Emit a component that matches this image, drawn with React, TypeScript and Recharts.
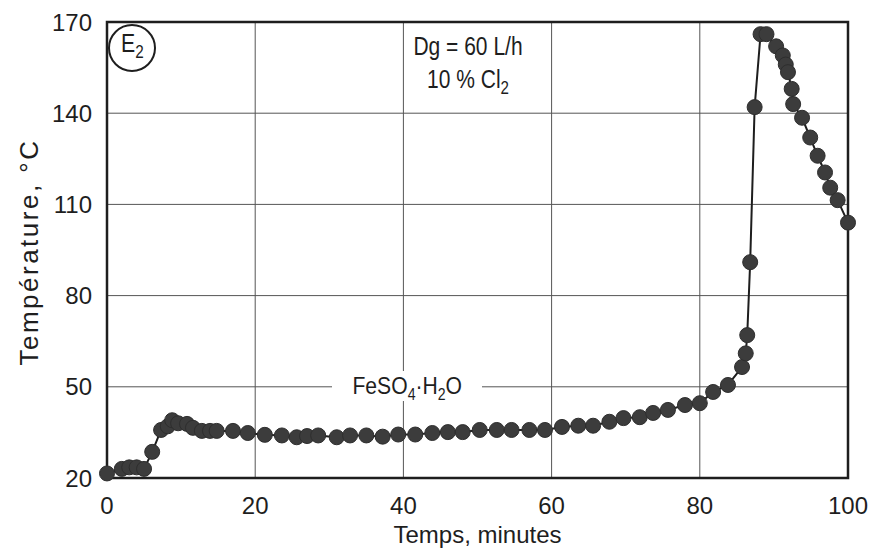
import React from "react";
import {
  LineChart,
  Line,
  CartesianGrid,
  XAxis,
  YAxis,
  ReferenceArea,
  Label,
} from "recharts";

// temps (min) and température (°C)
const times = [
  0, 2, 3, 4, 5, 6.1, 7.3, 8.2, 8.8, 9.6, 10.8, 11.6, 12.8, 13.9, 14.8, 17, 19,
  21.3, 23.6, 25.6, 27, 28.5, 31, 32.8, 35, 37.2, 39.3, 41.6, 43.9, 46, 48,
  50.3, 52.6, 54.6, 57, 59.1, 61.4, 63.6, 65.6, 67.8, 69.7, 71.9, 73.7, 75.7,
  78, 80, 81.8, 83.8, 85.7, 86.2, 86.4, 86.8, 87.4, 88.2, 89, 90.3, 91.2, 91.6,
  91.9, 92.4, 92.6, 93.8, 94.9, 95.9, 96.9, 97.6, 98.6, 100,
];
const temps = [
  21.5, 23, 23.5, 23.5, 23, 28.6, 35.8, 37, 39, 38, 37.8, 36.5, 35.5, 35.5,
  35.5, 35.5, 34.8, 34.2, 34, 33.4, 33.8, 34, 33.4, 34, 34, 33.6, 34.3, 34.3,
  34.8, 35.1, 35.1, 35.8, 35.8, 35.8, 35.8, 35.8, 36.8, 37.2, 37.2, 38.5, 39.7,
  40, 41.4, 42.4, 44, 44.6, 48.3, 50.6, 56.5, 61, 67, 91, 142, 166, 166, 162,
  159, 156, 153.5, 148, 143, 138.5, 132, 126, 120.5, 115.5, 111.4, 104,
];
const xTicks = [0, 20, 40, 60, 80, 100];
const yTicks = [20, 50, 80, 110, 140, 170];

const data = times.map((t, i) => ({ t, temp: temps[i] }));

const font = "'Liberation Sans', Arial, sans-serif";
const ink = "#1e1e1e";

const YTitle = (props: any) => {
  const vb = props.viewBox;
  const cx = 29;
  const cy = vb.y + vb.height / 2 + 2;
  return (
    <text
      x={cx}
      y={cy}
      transform={`rotate(-90, ${cx}, ${cy})`}
      textAnchor="middle"
      dominantBaseline="central"
      fontFamily={font}
      fontSize={26}
      letterSpacing={2.5}
      fill={ink}
    >
      Température, °C
    </text>
  );
};

const note: React.CSSProperties = {
  position: "absolute",
  textAlign: "center",
  fontFamily: font,
  color: ink,
  transformOrigin: "center",
};

export default function App() {
  return (
    <div
      style={{
        position: "absolute",
        left: 0,
        top: 0,
        width: 870,
        height: 552,
        background: "#fff",
      }}
    >
      <LineChart
        width={870}
        height={552}
        data={data}
        margin={{ top: 22, right: 22, left: 47, bottom: 34 }}
      >
        <CartesianGrid stroke="#555" strokeWidth={1} />
        <XAxis
          dataKey="t"
          type="number"
          domain={[0, 100]}
          ticks={xTicks}
          height={40}
          tickLine={false}
          axisLine={false}
          tickSize={0}
          tickMargin={19}
          tick={{ fill: ink, fontSize: 24, fontFamily: font }}
        >
          <Label
            value="Temps, minutes"
            position="bottom"
            offset={8}
            style={{ fill: ink, fontSize: 24, fontFamily: font }}
          />
        </XAxis>
        <YAxis
          type="number"
          domain={[20, 170]}
          ticks={yTicks}
          width={60}
          tickLine={false}
          axisLine={false}
          tickSize={0}
          tickMargin={15}
          tick={{ fill: ink, fontSize: 24, fontFamily: font }}
          label={<YTitle />}
        />
        <ReferenceArea
          x1={0}
          x2={100}
          y1={20}
          y2={170}
          fill="none"
          stroke={ink}
          strokeWidth={2.5}
          fillOpacity={0}
        />
        <Line
          type="linear"
          dataKey="temp"
          stroke={ink}
          strokeWidth={2}
          isAnimationActive={false}
          dot={{ r: 7.5, fill: "#3c3c3c", stroke: "#2e2e2e", strokeWidth: 1 }}
          activeDot={false}
        />
      </LineChart>

      {/* E2 badge */}
      <div
        style={{
          position: "absolute",
          left: 108,
          top: 24,
          width: 44,
          height: 44,
          border: `2px solid ${ink}`,
          borderRadius: "50%",
          display: "flex",
          alignItems: "center",
          justifyContent: "center",
          fontFamily: font,
          fontSize: 25,
          color: ink,
          background: "#fff",
        }}
      >
        <span style={{ transform: "scaleX(0.85)", marginTop: -4 }}>
          E<sub style={{ fontSize: 18 }}>2</sub>
        </span>
      </div>

      {/* conditions */}
      <div
        style={{
          ...note,
          left: 368,
          top: 30,
          width: 200,
          fontSize: 25,
          lineHeight: "33px",
          transform: "scaleX(0.84)",
        }}
      >
        <div>Dg = 60 L/h</div>
        <div>
          10 % Cl<sub style={{ fontSize: 18, lineHeight: 0 }}>2</sub>
        </div>
      </div>

      {/* phase label on the 50 °C gridline */}
      <div
        style={{
          ...note,
          left: 332,
          top: 371,
          width: 150,
          fontSize: 24,
          lineHeight: "30px",
          background: "#fff",
        }}
      >
        <span style={{ display: "inline-block", transform: "scaleX(0.88)" }}>
          FeSO<sub style={{ fontSize: 16, lineHeight: 0 }}>4</sub>·H
          <sub style={{ fontSize: 16, lineHeight: 0 }}>2</sub>O
        </span>
      </div>
    </div>
  );
}
